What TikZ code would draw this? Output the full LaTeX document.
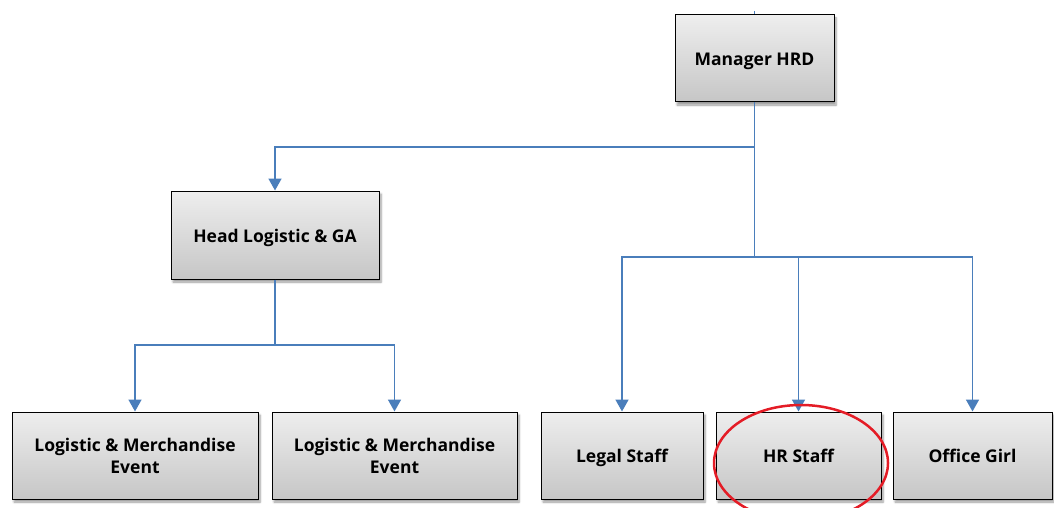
\documentclass[tikz,border=0pt]{standalone}
\usepackage{fontspec}
\setmainfont{Open Sans}
\usetikzlibrary{arrows.meta,shadows.blur}
\definecolor{boxtop}{RGB}{238,238,238}
\definecolor{boxbot}{RGB}{198,198,198}
\definecolor{connblue}{RGB}{74,126,187}
\definecolor{ringred}{RGB}{228,28,38}
\tikzset{
  orgbox/.style={draw=black, line width=1pt, top color=boxtop, bottom color=boxbot,
    align=center, inner sep=0pt, font=\fontsize{17.5}{22}\selectfont\bfseries,
    blur shadow={shadow xshift=2pt, shadow yshift=-3pt, shadow blur steps=6, shadow opacity=40}},
  oneline/.style={orgbox, text height=17pt, text depth=2.3pt},
  conn/.style={draw=connblue, line width=1.7pt},
  arr/.style={conn, -{Triangle[width=13pt,length=12pt]}},
}
\begin{document}
\begin{tikzpicture}[x=1pt,y=1pt]
\useasboundingbox (0,0) rectangle (1054,-508);
\node[oneline, minimum width=159pt, minimum height=87pt] (mgr) at (754.5,-58.5) {Manager HRD};
\node[oneline, minimum width=208pt, minimum height=88pt] (head) at (275,-235) {Head Logistic \& GA};
\node[orgbox, minimum width=246pt, minimum height=87pt] (lm1) at (135,-455.5) {Logistic \& Merchandise\\Event};
\node[orgbox, minimum width=245pt, minimum height=87pt] (lm2) at (394.5,-455.5) {Logistic \& Merchandise\\Event};
\node[oneline, minimum width=162pt, minimum height=87pt] (legal) at (622,-455.5) {Legal Staff};
\node[oneline, minimum width=165pt, minimum height=87pt] (hr) at (798.5,-455.5) {HR Staff};
\node[oneline, minimum width=159pt, minimum height=87pt] (office) at (972.5,-455.5) {Office Girl};
\coordinate (top) at (754.5,-11);
\coordinate (j1) at (754.5,-147);
\coordinate (j2) at (754.5,-257);
\coordinate (j3) at (275,-345);
\draw[conn] (top) -- (mgr.north);
\draw[conn] (mgr.south) -- (j2);
\draw[arr] (j1) -| (head.north);
\draw[arr] (j2) -| (legal.north);
\draw[arr] (j2) -| (hr.north);
\draw[arr] (j2) -| (office.north);
\draw[conn] (head.south) -- (j3);
\draw[arr] (j3) -| (lm1.north);
\draw[arr] (j3) -| (lm2.north);
\draw[draw=ringred, line width=2.5pt] (801,-463) ellipse [x radius=87pt, y radius=58pt];
\end{tikzpicture}
\end{document}
